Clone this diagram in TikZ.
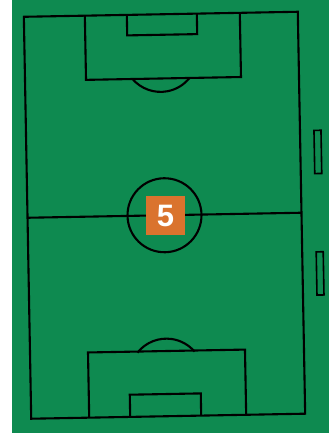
\documentclass[tikz,border=0pt]{standalone}
\usepackage{fontspec}
\setmainfont{Liberation Sans}
\definecolor{pitchgreen}{RGB}{14,138,80}
\definecolor{badge}{RGB}{218,115,46}
\begin{document}
\begin{tikzpicture}[x=1pt,y=1pt,
  pitchline/.style={draw=black,line width=2.1pt,line join=miter},
  benchbox/.style={draw=black,line width=1.6pt}]
\useasboundingbox (0,0) rectangle (329,438);
\fill[pitchgreen] (12,5) rectangle (329,438);
\begin{scope}[shift={(164.5,222.75)},rotate=1.05]
  % outline
  \draw[pitchline] (-137,-201) rectangle (137,201);
  % halfway line
  \draw[pitchline] (-137,0) -- (137,0);
  % centre circle
  \draw[pitchline] (0,0) circle[radius=37];
  % top penalty area and goal area
  \draw[pitchline] (-76,201) -- (-76,136.8) -- (79,136.8) -- (79,201);
  \draw[pitchline] (-34,201) -- (-34,180.5) -- (36,180.5) -- (36,201);
  \draw[pitchline] (-1,160.4) ++(219.6:37) arc[start angle=219.6,end angle=320.4,radius=37];
  % bottom penalty area and goal area
  \draw[pitchline] (-79,-201) -- (-79,-135.8) -- (78,-135.8) -- (78,-201);
  \draw[pitchline] (-38,-201) -- (-38,-178.8) -- (33,-178.8) -- (33,-201);
  \draw[pitchline] (-1,-160.4) ++(140.4:37) arc[start angle=140.4,end angle=39.6,radius=37];
  % benches
  \draw[benchbox] (151,38.9) rectangle (158,82.1);
  \draw[benchbox] (151,-82.6) rectangle (158,-39.4);
\end{scope}
\node[fill=badge,minimum width=39pt,minimum height=39pt,inner sep=0pt,
      text=white,font=\bfseries\fontsize{31}{31}\selectfont] (num) at (165.5,222.5) {5};
\end{tikzpicture}
\end{document}
